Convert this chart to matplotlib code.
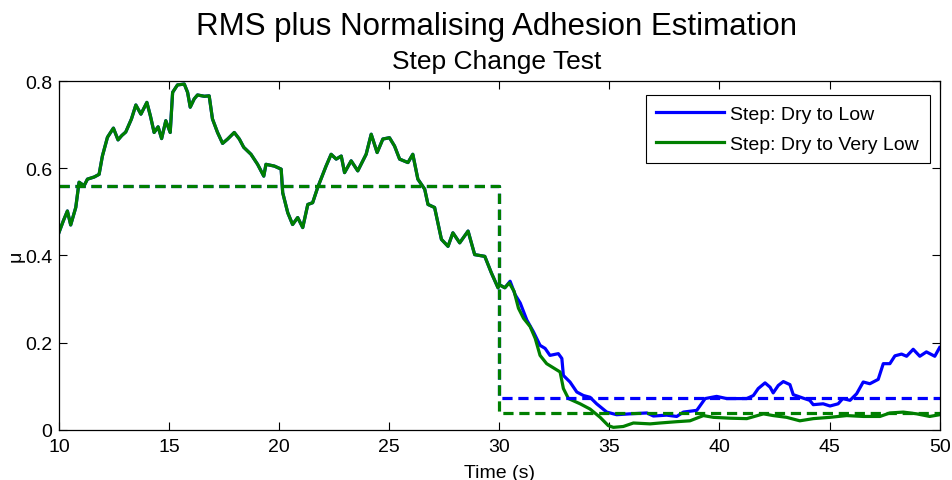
#!/usr/bin/env python3
import numpy as np
import matplotlib
matplotlib.use("Agg")
import matplotlib.pyplot as plt

plt.rcParams['font.family'] = ['Liberation Sans', 'DejaVu Sans']

# estimate before the step (both tests identical up to t = 30 s)
t_dry = [10.0, 10.2, 10.38, 10.53, 10.76, 10.91, 11.14, 11.29, 11.6, 11.82, 11.97, 12.2, 12.47,
         12.68, 12.85, 13.03, 13.29, 13.49, 13.72, 13.99, 14.15, 14.32, 14.5, 14.66, 14.85, 15.05,
         15.16, 15.38, 15.69, 15.84, 15.96, 16.14, 16.29, 16.6, 16.82, 16.97, 17.2, 17.43, 17.66,
         17.96, 18.19, 18.39, 18.72, 19.02, 19.3, 19.4, 19.78, 20.09, 20.16, 20.39, 20.61, 20.84,
         21.07, 21.3, 21.52, 21.75, 22.13, 22.36, 22.59, 22.82, 22.97, 23.27, 23.57, 23.95, 24.18,
         24.45, 24.71, 25.01, 25.24, 25.47, 25.85, 26.07, 26.3, 26.61, 26.76, 27.06, 27.37, 27.67,
         27.89, 28.2, 28.58, 28.88, 29.34, 29.64, 29.94]
mu_dry = [0.453, 0.48, 0.502, 0.47, 0.51, 0.568, 0.56, 0.575, 0.58, 0.586, 0.628, 0.671, 0.692,
          0.665, 0.675, 0.683, 0.713, 0.745, 0.724, 0.751, 0.72, 0.682, 0.695, 0.668, 0.709, 0.682,
          0.774, 0.791, 0.793, 0.774, 0.74, 0.759, 0.768, 0.765, 0.766, 0.713, 0.682, 0.657, 0.667,
          0.682, 0.667, 0.648, 0.632, 0.609, 0.582, 0.609, 0.605, 0.598, 0.544, 0.498, 0.471, 0.487,
          0.464, 0.517, 0.521, 0.556, 0.605, 0.632, 0.621, 0.628, 0.59, 0.617, 0.594, 0.632, 0.678,
          0.636, 0.667, 0.67, 0.651, 0.621, 0.613, 0.632, 0.575, 0.552, 0.517, 0.51, 0.437, 0.421,
          0.452, 0.429, 0.456, 0.402, 0.398, 0.36, 0.326]

# after the step: dry to low
t_low = [30.0, 30.25, 30.49, 30.72, 30.95, 31.25, 31.55, 31.85, 32.08, 32.3, 32.68, 32.84, 32.91,
         33.21, 33.52, 33.82, 34.12, 34.42, 34.88, 35.33, 35.94, 36.7, 37.0, 37.6, 38.06, 38.36,
         38.97, 39.35, 39.87, 40.33, 41.24, 41.54, 41.76, 42.07, 42.3, 42.44, 42.67, 42.9, 43.2,
         43.35, 43.8, 44.1, 44.26, 44.71, 45.02, 45.39, 45.6, 45.93, 46.23, 46.53, 46.83, 47.21,
         47.44, 47.74, 47.97, 48.27, 48.5, 48.8, 49.1, 49.4, 49.78, 50.0]
mu_low = [0.333, 0.326, 0.341, 0.31, 0.291, 0.252, 0.225, 0.194, 0.187, 0.171, 0.175, 0.164, 0.125,
          0.11, 0.087, 0.079, 0.075, 0.06, 0.041, 0.035, 0.037, 0.039, 0.032, 0.034, 0.031, 0.041,
          0.045, 0.072, 0.077, 0.072, 0.072, 0.079, 0.095, 0.108, 0.098, 0.085, 0.102, 0.111, 0.104,
          0.081, 0.073, 0.068, 0.058, 0.06, 0.055, 0.06, 0.072, 0.068, 0.083, 0.11, 0.106, 0.116,
          0.152, 0.152, 0.17, 0.174, 0.169, 0.185, 0.169, 0.179, 0.169, 0.189]

# after the step: dry to very low
t_vlow = [30.0, 30.25, 30.45, 30.67, 30.87, 31.1, 31.4, 31.63, 31.85, 32.15, 32.76, 32.91, 33.14,
          33.67, 34.12, 34.58, 34.95, 35.18, 35.63, 36.09, 36.85, 37.3, 38.06, 38.66, 39.27, 39.72,
          40.48, 41.24, 42.0, 42.44, 43.05, 43.65, 44.26, 45.02, 45.78, 46.53, 47.29, 47.74, 48.35,
          48.96, 49.55, 50.0]
mu_vlow = [0.333, 0.326, 0.337, 0.318, 0.279, 0.256, 0.237, 0.21, 0.171, 0.152, 0.133, 0.095, 0.072,
           0.06, 0.048, 0.029, 0.01, 0.006, 0.008, 0.016, 0.014, 0.016, 0.019, 0.021, 0.033, 0.029,
           0.027, 0.026, 0.037, 0.033, 0.029, 0.021, 0.026, 0.029, 0.033, 0.031, 0.031, 0.039, 0.041,
           0.037, 0.031, 0.035]

# true adhesion steps
t_step = [10, 30, 30, 50]
mu_step_low = [0.56, 0.56, 0.074, 0.074]
mu_step_vlow = [0.56, 0.56, 0.0385, 0.0385]

blue = '#0000ff'
green = '#007f00'

fig = plt.figure(figsize=(9.52, 4.81), dpi=100)
ax = fig.add_axes([0.062, 0.104, 0.925, 0.7255])

ax.plot(t_dry + t_low, mu_dry + mu_low, color=blue, lw=2.3, label='Step: Dry to Low')
ax.plot(t_dry + t_vlow, mu_dry + mu_vlow, color=green, lw=2.3, label='Step: Dry to Very Low')
ax.plot(t_step, mu_step_low, color=blue, lw=2.3, ls='--', dashes=(3.2, 1.8))
ax.plot(t_step, mu_step_vlow, color=green, lw=2.3, ls='--', dashes=(3.2, 1.8))

ax.set_xlim(10, 50)
ax.set_ylim(0, 0.8)
ax.set_xticks([10, 15, 20, 25, 30, 35, 40, 45, 50])
ax.set_yticks([0, 0.2, 0.4, 0.6, 0.8])
ax.set_yticklabels(['0', '0.2', '0.4', '0.6', '0.8'])
ax.tick_params(direction='in', top=True, right=True, labelsize=14, length=6, width=0.8)
ax.tick_params(axis='x', pad=6)
ax.tick_params(axis='y', pad=5)
ax.set_xlabel('Time (s)', fontsize=14, labelpad=6)
ax.set_ylabel('μ', fontsize=14, labelpad=0)
for s in ax.spines.values():
    s.set_linewidth(0.9)

leg = ax.legend(loc='upper right', bbox_to_anchor=(0.9887, 0.96), fontsize=14,
                fancybox=False, framealpha=1, edgecolor='black', handlelength=3.5,
                handletextpad=0.3, borderaxespad=0, borderpad=0.55, labelspacing=0.6)
leg.get_frame().set_linewidth(0.8)

fig.text(0.522, 0.927, 'RMS plus Normalising Adhesion Estimation', ha='center',
         va='baseline', fontsize=22.5)
fig.text(0.522, 0.8565, 'Step Change Test', ha='center', va='baseline', fontsize=19)

fig.savefig('out.png', dpi=100)
